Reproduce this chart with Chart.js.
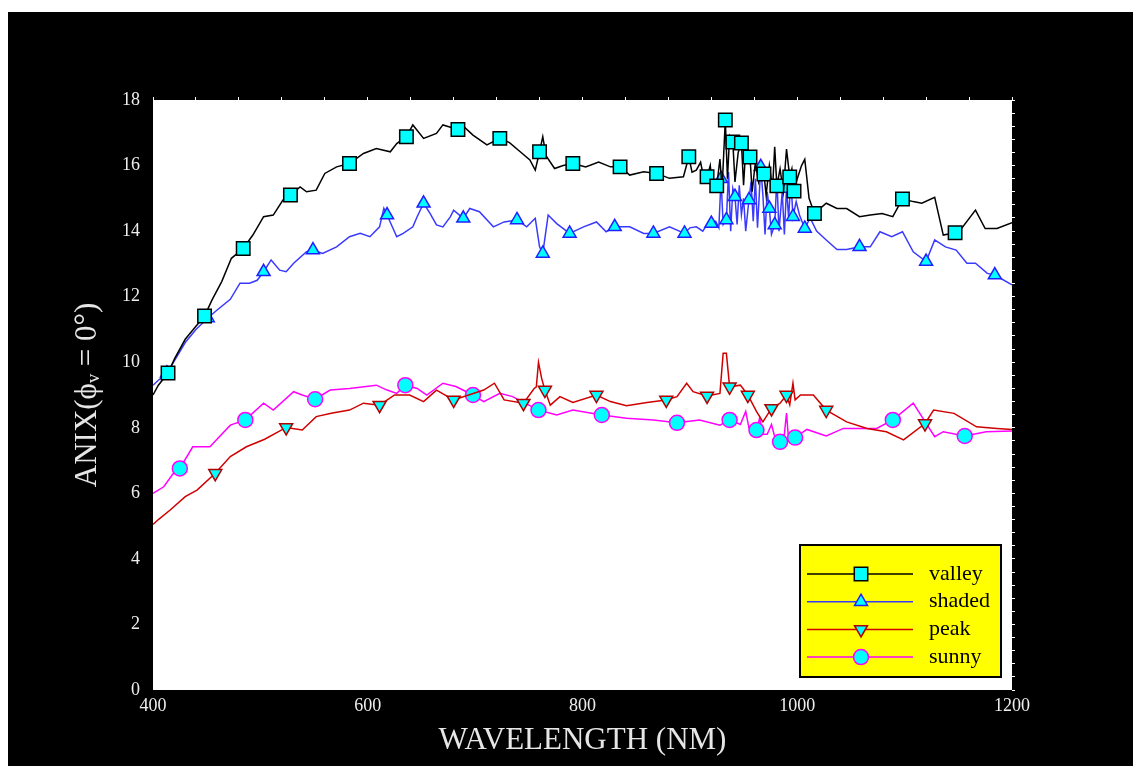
<!DOCTYPE html>
<html>
<head>
<meta charset="utf-8">
<title>ANIX vs wavelength</title>
<script src="https://cdn.jsdelivr.net/npm/chart.js@4/dist/chart.umd.min.js"></script>
<style>
  html, body { margin: 0; padding: 0; background: #ffffff; }
  #wrap { width: 1133px; height: 766px; }
</style>
</head>
<body>
<div id="wrap"><canvas id="chart" width="1133" height="766"></canvas></div>
<script>
// ---- data: wavelength (nm) and ANIX values per canopy class ----
const valleyWl = [400,405,414,420,430,440,448,455,464,473,484,493,503,512,521,528,537,543,552,560,571,583,596,608,621,627,636,642,652,664,670,684,689,698,711,723,732,742,751,756,760,763,766,774,782,791,803,815,826,835,844,857,869,881,894,899,902,906,910,913,916,919,921,925,928,930,933,935,937,940,942,945,948,950,952,956,958,961,964,967,969,971,974,977,979,981,984,987,990,993,995,997,1000,1004,1007,1011,1016,1027,1037,1046,1058,1068,1079,1089,1098,1108,1116,1128,1136,1147,1153,1166,1175,1186,1200];
const valleyVal = [9.0,9.3,9.67,10.1,10.7,11.1,11.41,11.9,12.46,13.17,13.47,13.88,14.44,14.49,14.95,15.1,15.35,15.2,15.25,15.76,15.96,16.06,16.37,16.52,16.42,16.67,16.88,17.24,16.83,16.98,17.24,17.1,17.2,16.93,16.63,16.83,16.7,16.42,16.17,15.86,16.42,16.88,16.3,15.91,16.0,16.06,15.96,16.11,15.96,15.96,15.71,15.81,15.76,15.61,15.66,16.27,15.8,15.86,16.1,15.6,15.66,16.0,15.3,15.38,16.2,15.3,17.39,15.6,16.9,16.72,15.5,16.4,16.69,15.4,16.5,16.26,15.2,16.1,15.5,15.9,15.74,15.1,16.0,15.3,16.57,15.38,15.9,15.2,16.5,15.65,15.9,15.22,15.6,16.0,16.19,15.0,14.54,14.85,14.69,14.69,14.44,14.49,14.54,14.44,14.98,14.9,14.85,15.03,13.88,13.95,14.08,14.64,14.08,14.08,14.26];
const valleyMarks = [414,448,484,528,583,636,684,723,760,791,835,869,899,916,925,933,940,948,956,969,981,993,997,1016,1098,1147];

const shadedWl = [400,405,413,420,430,440,451,460,472,481,490,497,503,510,518,524,531,543,549,558,571,583,593,602,611,615,618,627,633,642,646,652,658,664,670,677,680,689,695,704,717,727,739,748,756,760,763,768,776,788,801,813,822,830,844,857,866,881,895,900,906,912,916,920,924,927,929,931,934,936,938,940,942,944,946,948,950,952,955,957,959,961,963,966,968,970,972,974,976,979,981,983,986,988,990,992,994,996,999,1002,1007,1012,1018,1027,1037,1046,1058,1068,1077,1088,1098,1108,1120,1128,1138,1148,1158,1166,1177,1184,1200];
const shadedVal = [9.3,9.45,9.66,10.05,10.6,11.0,11.35,11.6,11.92,12.41,12.41,12.5,12.76,13.12,12.81,12.76,13.02,13.37,13.42,13.32,13.52,13.83,13.93,13.83,14.13,14.7,14.49,13.83,13.93,14.13,14.44,14.85,14.54,14.19,14.13,14.44,14.64,14.39,14.69,14.59,14.13,14.28,14.34,14.13,14.39,13.52,13.32,14.49,14.23,13.93,14.13,14.28,13.98,14.13,14.13,13.93,13.93,14.13,13.93,14.1,14.13,14.0,14.2,14.23,14.3,14.1,15.6,14.2,14.34,15.8,14.0,15.3,15.05,14.2,15.4,14.5,15.0,14.0,14.95,15.5,14.3,15.6,14.1,15.96,15.1,13.9,15.2,14.69,13.9,14.19,15.6,14.0,15.2,13.9,15.3,14.4,15.6,14.44,14.9,14.5,14.08,14.4,14.0,13.73,13.44,13.44,13.52,13.52,13.98,13.83,13.98,13.37,13.07,13.73,13.52,13.42,13.02,13.02,12.71,12.66,12.36];
const shadedMarks = [413,451,503,549,618,652,689,739,763,788,830,866,895,920,929,934,942,955,966,974,979,990,996,1007,1058,1120,1184];

const peakWl = [400,405,416,430,441,458,472,487,504,524,539,552,566,583,596,611,625,639,652,664,680,694,708,718,727,745,755,757,759,762,765,770,779,791,813,826,841,860,878,888,897,903,916,928,931,934,937,947,954,962,968,976,984,990,993,996,998,1003,1015,1027,1046,1065,1083,1099,1119,1127,1146,1167,1186,1200];
const peakVal = [5.05,5.2,5.49,5.9,6.1,6.61,7.12,7.42,7.65,8.01,7.93,8.34,8.44,8.54,8.75,8.69,9.0,9.0,8.8,9.15,8.85,9.0,9.15,9.36,8.85,8.75,9.2,9.25,10.0,9.5,9.15,8.69,8.95,8.77,9.0,8.8,8.67,8.77,8.85,8.95,9.36,9.1,8.97,9.05,10.27,10.27,9.25,9.3,9.0,8.5,8.18,8.59,8.75,9.0,8.7,9.36,8.85,9.0,9.0,8.54,8.18,7.98,7.88,7.63,8.13,8.54,8.44,8.03,7.98,7.95];
const peakMarks = [458,524,611,680,745,765,813,878,916,937,954,976,990,1027,1119];

const sunnyWl = [400,410,419,425,437,453,472,486,503,512,531,539,551,565,583,608,618,627,635,646,655,670,682,698,708,723,735,759,776,791,818,841,866,888,909,928,937,947,952,955,962,965,968,972,976,980,984,988,990,992,998,1009,1027,1043,1074,1089,1108,1128,1136,1156,1176,1200];
const sunnyVal = [6.0,6.2,6.61,6.76,7.42,7.42,8.08,8.24,8.75,8.54,9.1,9.0,8.87,9.15,9.2,9.3,9.15,9.05,9.3,9.2,9.0,9.36,9.26,9.0,8.8,9.05,8.95,8.54,8.39,8.54,8.39,8.29,8.24,8.15,8.24,8.08,8.24,8.1,8.5,8.0,7.93,8.3,7.8,7.8,8.1,7.6,7.57,7.8,8.45,7.6,7.7,7.95,7.75,7.98,7.98,8.24,8.75,7.73,7.88,7.75,7.88,7.9];
const sunnyMarks = [425,486,551,635,698,759,818,888,937,962,984,998,1089,1156];

// ---- axis ranges and ticks ----
const xRange = [400, 1200];
const xStep = 200;
const yRange = [0, 18];
const yStep = 2;
const xTitle = 'WAVELENGTH (NM)';
const yTitle = 'ANIX(\u03D5\u1D65 = 0\u00B0)';

const serif = "'Liberation Serif', 'Times New Roman', 'DejaVu Serif', serif";
const markerFill = '#00ffff';

function series(label, wl, vals, marks, color, markColor, style, radius, rotation) {
  const markSet = new Set(marks);
  return {
    label,
    data: wl.map((x, i) => ({ x, y: vals[i] })),
    borderColor: color,
    borderWidth: 1.5,
    tension: 0,
    fill: false,
    pointStyle: style,
    pointRotation: rotation,
    pointBackgroundColor: markerFill,
    pointBorderColor: markColor,
    pointBorderWidth: 1.5,
    pointRadius: ctx => (ctx.raw && markSet.has(ctx.raw.x)) ? radius : 0,
    pointHoverRadius: 0,
    legendRadius: radius
  };
}

const datasets = [
  series('valley', valleyWl, valleyVal, valleyMarks, '#000000', '#000000', 'rect', 9.5, 0),
  series('shaded', shadedWl, shadedVal, shadedMarks, '#3a3aff', '#2020ff', 'triangle', 7.5, 0),
  series('peak', peakWl, peakVal, peakMarks, '#d00000', '#b00000', 'triangle', 7.5, 180),
  series('sunny', sunnyWl, sunnyVal, sunnyMarks, '#ff00ff', '#ff00ff', 'circle', 7.5, 0)
];

// black page frame and white plotting field
const backdrop = {
  id: 'backdrop',
  beforeDraw(chart) {
    const { ctx, chartArea: a } = chart;
    ctx.save();
    ctx.fillStyle = '#ffffff';
    ctx.fillRect(0, 0, chart.width, chart.height);
    ctx.fillStyle = '#000000';
    ctx.fillRect(8, 12, chart.width - 8, chart.height - 12);
    ctx.fillStyle = '#ffffff';
    ctx.fillRect(a.left, a.top, a.right - a.left, a.bottom - a.top);
    ctx.restore();
  }
};

// yellow key box in the lower right of the plot
const keyBox = {
  id: 'keyBox',
  afterDraw(chart) {
    const { ctx, chartArea: a } = chart;
    const w = 201, h = 132;
    const x0 = a.right - 11 - w, y0 = a.bottom - 13 - h;
    ctx.save();
    ctx.fillStyle = '#ffff00';
    ctx.fillRect(x0, y0, w, h);
    ctx.strokeStyle = '#000000';
    ctx.lineWidth = 2;
    ctx.strokeRect(x0, y0, w, h);
    ctx.font = '22px ' + serif;
    ctx.textBaseline = 'middle';
    ctx.textAlign = 'left';
    chart.data.datasets.forEach((ds, i) => {
      const y = y0 + 29 + i * 27.7;
      ctx.strokeStyle = ds.borderColor;
      ctx.lineWidth = 1.5;
      ctx.beginPath();
      ctx.moveTo(x0 + 7, y);
      ctx.lineTo(x0 + 113, y);
      ctx.stroke();
      ctx.fillStyle = ds.pointBackgroundColor;
      ctx.strokeStyle = ds.pointBorderColor;
      ctx.lineWidth = ds.pointBorderWidth;
      Chart.helpers.drawPoint(ctx, {
        pointStyle: ds.pointStyle,
        rotation: ds.pointRotation,
        radius: ds.legendRadius,
        borderWidth: ds.pointBorderWidth
      }, x0 + 61, y);
      ctx.fillStyle = '#000000';
      ctx.fillText(ds.label, x0 + 129, y);
    });
    ctx.restore();
  }
};

const edgeTicks = (len) => ({
  drawOnChartArea: false, drawTicks: true, tickLength: len, color: '#ffffff', lineWidth: 1
});

const plainLabel = v => String(v);

new Chart(document.getElementById('chart'), {
  type: 'line',
  data: { datasets },
  plugins: [backdrop, keyBox],
  options: {
    responsive: false,
    animation: false,
    events: [],
    layout: { padding: { left: 0, top: 100, right: 121, bottom: 0 } },
    plugins: { legend: { display: false }, tooltip: { enabled: false } },
    scales: {
      x: {
        type: 'linear', position: 'bottom', min: xRange[0], max: xRange[1],
        afterFit(s) { s.height = 76; },
        grid: { display: false, drawTicks: false },
        border: { display: false },
        ticks: { stepSize: xStep, callback: plainLabel, color: '#eeeeee', font: { family: serif, size: 18 }, padding: 5, maxRotation: 0, autoSkip: false },
        title: { display: true, text: xTitle, color: '#e6e6e6', font: { family: serif, size: 31 }, padding: { top: 0, bottom: 7 } }
      },
      y: {
        type: 'linear', position: 'left', min: yRange[0], max: yRange[1],
        afterFit(s) { s.width = 153; },
        grid: { display: false, drawTicks: false },
        border: { display: false },
        ticks: { stepSize: yStep, callback: plainLabel, color: '#eeeeee', font: { family: serif, size: 18 }, padding: 13, autoSkip: false },
        title: { display: true, text: yTitle, color: '#e6e6e6', font: { family: serif, size: 31 }, padding: { top: 69, bottom: 0 } }
      },
      xTop: {
        type: 'linear', position: 'top', min: xRange[0], max: xRange[1],
        afterFit(s) { s.height = 0; },
        grid: edgeTicks(3),
        border: { display: false },
        ticks: { display: false, stepSize: 40, maxTicksLimit: 100, autoSkip: false }
      },
      yRight: {
        type: 'linear', position: 'right', min: yRange[0], max: yRange[1],
        afterFit(s) { s.width = 0; },
        grid: edgeTicks(3),
        border: { display: false },
        ticks: { display: false, stepSize: 0.4, maxTicksLimit: 100, autoSkip: false }
      }
    }
  }
});
</script>
</body>
</html>
